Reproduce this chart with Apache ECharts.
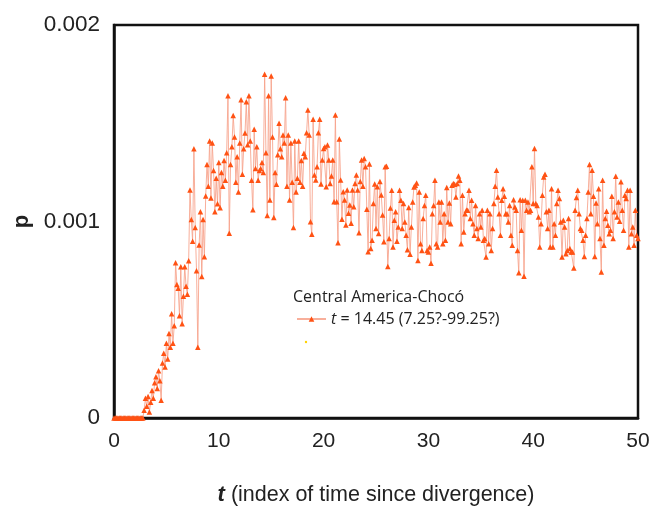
<!DOCTYPE html>
<html><head><meta charset="utf-8">
<script src="https://cdn.jsdelivr.net/npm/echarts@6/dist/echarts.min.js"></script>
<style>html,body{margin:0;padding:0;background:#fff}#c{width:657px;height:508px}</style>
</head><body><div id="c"></div>
<script>
// time index step between consecutive estimates
const T_STEP = 0.125;
const X_TICKS = [0, 10, 20, 30, 40, 50];
const Y_TICKS = [0, 0.001, 0.002];

// p values, t = 0 .. 50 in steps of 0.125
const pOnset = [
  0,0,0,0,0,0,0,0,0,0,0,0,0,0,0,0,0,0,0,0,0,0,0,
  0.00004,0.00010,0.00006,0.00011,0.00003,0.00008,
  0.00014,0.00010,0.00018,0.00021,0.00015,0.00024,0.00019,0.00009,
  0.00028,0.00033,0.00026,0.00038,0.00030,0.00043,0.00036,0.00053,0.00038,0.00047,
  0.00079,0.00068,0.00066,0.00052,0.00077,0.00048,0.00062,0.00077,0.00067,0.00063,
  0.00080,0.00116,0.00101,0.00090,0.00137,0.00097,0.00075,0.00036,0.00088,0.00105,0.00072,0.00101,0.00082,0.00113
];
const pPeak = [
  0.00129,0.00118,0.00141,0.00112,0.00140,0.00126,0.00105,0.00122,0.00109,0.00130,0.00107,0.00125,0.00118,0.00131,
  0.00121,0.00135,0.00164,0.00094,0.00129,0.00138,0.00154,0.00143,0.00120,0.00133,0.00115,0.00140,0.00162,0.00124,0.00137,0.00145,0.00161,0.00139,0.00164,0.00141,
  0.00121,0.00106,0.00147,0.00127,0.00138,0.00121,0.00126,0.00127,0.00130,0.00125,0.00175,0.00135,0.00103,0.00164,0.00111,0.00174,0.00143,0.00102,0.00125,0.00119,
  0.00134,0.00150,0.00137,0.00133,0.00144,0.00140,0.00163,0.00118,0.00144,0.00111,0.00140,0.00120,0.00097,0.00141,0.00115,0.00122,0.00141,0.00120,0.00131,0.00118
];
const pDecline = [
  0.001347,0.001330,0.001452,0.001567,0.001440,0.000999,0.000935,0.001520,0.001237,0.001211,
  0.001279,0.001452,0.001520,0.001191,0.001313,0.001372,0.001381,0.001177,0.001389,0.001313,
  0.001194,0.001232,0.001313,0.001101,0.001542,0.001101,0.000892,0.001420,0.001211,0.001011,
  0.001152,0.001109,0.000982,0.001160,0.001042,0.001084,0.000991,0.001160,0.001075,0.001194,
  0.001237,0.001160,0.000943,0.001203,0.001313,0.001180,0.001321,0.001279,0.001062,0.000846,
  0.001293,0.000863,0.000905,0.001092,0.001191,0.000965,0.001177,0.000939,0.001203,0.001135,
  0.001033,0.000897,0.001279
];
const pPlateauA = [
  0.001281,0.000771,0.000913,0.001069,0.001159,0.000870,0.001006,0.001049,0.000899,0.000972,
  0.001159,0.001108,0.000964,0.001091,0.000998,0.000930,0.000856,0.001071,0.000833,0.000972,
  0.001099,0.001176,0.001185,0.001196,0.000802,0.001150,0.000887,0.000853,0.001015,0.001082,
  0.001134,0.000853,0.000845,0.000870,0.000788,0.001040,0.001082,0.001210,0.000887,0.000870,
  0.001099,0.000998,0.001099,0.000887,0.001040,0.000904,0.001173,0.000998,0.001094,0.000989,
  0.001185,0.001193,0.001190,0.001125,0.001193,0.001232,0.001210,0.000887,0.001134,0.000947,
  0.001040
];
const pPlateauB = [
  0.001057,0.001057,0.001159,0.001015,0.001108,0.000989,0.000930,0.001082,0.000964,0.000913,
  0.001040,0.000972,0.001057,0.000904,0.000913,0.000819,0.001057,0.000887,0.001040,0.000853,
  0.000964,0.001091,0.001179,0.001261,0.001125,0.001040,0.000930,0.001108,0.001167,0.001128,
  0.001040,0.001040,0.000998,0.001082,0.000930,0.000879,0.001111,0.001074,0.001057,0.000853,
  0.000739,0.001111,0.000955,0.001108,0.000722,0.001108,0.001057,0.001099,0.001049,0.001057,
  0.001278,0.001091,0.001371,0.001091,0.001082,0.001023,0.000870,0.000989,0.001134,0.001227
];
const pPlateauC = [
  0.001241,0.001049,0.000964,0.001057,0.000870,0.001167,0.000870,0.000989,0.000930,0.001091,
  0.001159,0.001117,0.000998,0.000819,0.001006,0.000972,0.000836,0.000853,0.001015,0.000862,
  0.000845,0.000845,0.000763,0.001057,0.001122,0.001159,0.001040,0.000964,0.000955,0.000904,
  0.000822,0.000930,0.001015,0.001150,0.001290,0.001040,0.001261,0.001128,0.000822,0.001094,
  0.000989,0.001167,0.000913,0.000743,0.001210,0.000879,0.001015,0.001052,0.000981,0.000938,
  0.000955,0.001128,0.000913,0.001049,0.001230,0.001023,0.001099,0.001001,0.001202,0.001057,
  0.000955,0.001134,0.001117,0.001159,0.000870,0.001159,0.000938,0.000972,0.000879,0.001057,
  0.000930,0.000913
];
const seriesName = 't = 14.45 (7.25?-99.25?)';
const legendTitle = 'Central America-Chocó';

const pAll = pOnset.concat(pPeak, pDecline, pPlateauA, pPlateauB, pPlateauC);
const points = pAll.map((p, i) => [i * T_STEP, p]);

const FONT = '"Liberation Sans", Arial, sans-serif';
const LFONT = '"Open Sans", sans-serif';
const chart = echarts.init(document.getElementById('c'), null, {renderer: 'canvas'});
chart.setOption({
  animation: false,
  backgroundColor: '#fff',
  grid: {left: 114, right: 19, top: 25, bottom: 90, show: true, borderColor: '#111', borderWidth: 2.5,
    backgroundColor: 'transparent', outerBoundsMode: 'none', containLabel: false},
  title: {
    text: legendTitle, left: 288, top: 284,
    textStyle: {fontFamily: LFONT, fontSize: 16, fontWeight: 'normal', color: '#222'}
  },
  legend: {
    left: 291, top: 306, itemWidth: 29, itemHeight: 7, itemGap: 4,
    textStyle: {fontFamily: LFONT, fontSize: 16, color: '#222',
      rich: {i: {fontStyle: 'italic', fontFamily: LFONT, fontSize: 16, color: '#222'}}},
    formatter: n => '{i|t}' + n.slice(1)
  },
  graphic: [{type: 'circle', shape: {cx: 306, cy: 342, r: 1.2}, style: {fill: '#ffd200'}}],
  xAxis: {
    type: 'value', min: X_TICKS[0], max: X_TICKS[X_TICKS.length - 1], interval: 10,
    axisLine: {show: true, lineStyle: {color: '#111', width: 2.5}},
    axisTick: {show: false}, splitLine: {show: false},
    axisLabel: {fontFamily: FONT, fontSize: 21, color: '#222', margin: 13},
    name: '{b|t} (index of time since divergence)',
    nameLocation: 'middle', nameGap: 66,
    nameTextStyle: {fontFamily: FONT, fontSize: 21.5, color: '#222',
      rich: {b: {fontFamily: FONT, fontSize: 22, fontWeight: 'bold', fontStyle: 'italic', color: '#222'}}}
  },
  yAxis: {
    type: 'value', min: Y_TICKS[0], max: Y_TICKS[Y_TICKS.length - 1], interval: 0.001,
    axisLine: {show: true, lineStyle: {color: '#111', width: 2.5}},
    axisTick: {show: false}, splitLine: {show: false},
    axisLabel: {fontFamily: FONT, fontSize: 22.5, color: '#222', margin: 14,
      formatter: v => v === 0 ? '0' : v.toFixed(3)},
    name: 'p', nameLocation: 'middle', nameGap: 80, nameRotate: 90,
    nameTextStyle: {fontFamily: FONT, fontSize: 22, fontWeight: 'bold', color: '#222'}
  },
  series: [{
    name: seriesName, type: 'line', data: points,
    symbol: 'triangle', symbolSize: 5.5, showAllSymbol: true, sampling: null,
    itemStyle: {color: '#ff5214'},
    lineStyle: {color: '#f7a18a', width: 1, opacity: 0.85},
    emphasis: {disabled: true}
  }]
});
</script>
</body></html>
